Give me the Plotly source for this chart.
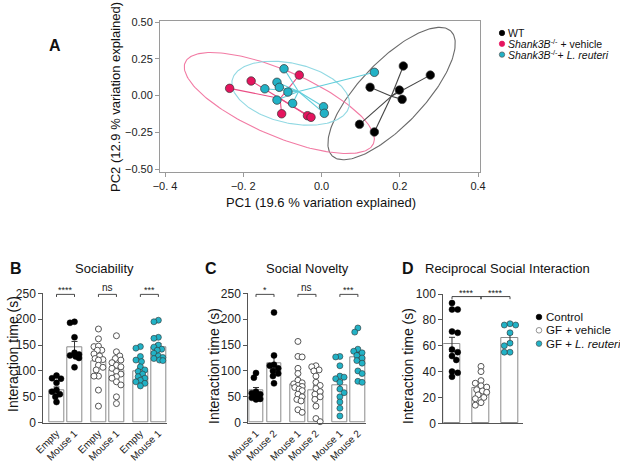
import numpy as np
import plotly.graph_objects as go

W, H = 620, 465
FONT = "Liberation Sans, Arial, sans-serif"

# ---------------- Panel A: PCA ----------------
wt_pc1 = [0.209, 0.124, 0.199, 0.206, 0.097, 0.135, 0.278]
wt_pc2 = [0.201, 0.056, 0.037, -0.026, -0.196, -0.248, 0.139]
veh_pc1 = [-0.235, -0.180, -0.057, -0.102, -0.036, -0.027]
veh_pc2 = [0.049, 0.099, 0.139, -0.124, -0.137, -0.148]
lr_pc1 = [-0.096, -0.145, -0.114, -0.108, -0.086, -0.114, -0.074, 0.005, 0.007, 0.135]
lr_pc2 = [0.182, 0.046, 0.090, 0.056, 0.024, -0.031, -0.053, -0.076, -0.121, 0.158]

# ellipse: centre and two conjugate semi-axis vectors (data units)
wt_ell_center = [0.179, 0.0136]
wt_ell_u = [0.1515, 0.4246]
wt_ell_v = [0.0595, -0.1502]
veh_ell_center = [-0.108, -0.051]
veh_ell_u = [0.2407, -0.2761]
veh_ell_v = [-0.0332, -0.2048]
lr_ell_center = [-0.079, 0.016]
lr_ell_u = [0.1494, -0.0903]
lr_ell_v = [-0.01694, -0.1983]

pca_xticks = [-0.4, -0.2, 0.0, 0.2, 0.4]
pca_xticktext = ["\u22120. 4", "\u22120. 2", "0.0", "0.2", "0.4"]
pca_yticks = [-0.5, -0.25, 0.0, 0.25, 0.5]
pca_yticktext = ["\u22120.50", "\u22120.25", "0.00", "0.25", "0.50"]

# ---------------- Panel B: Sociability ----------------
b_ticklabels = ["Empty", "Mouse 1", "Empty", "Mouse 1", "Empty", "Mouse 1"]
b_means = [63, 145, 119, 101, 100, 146]
b_sem = [6, 12, 8, 8, 6, 7]
b_points = [
    [91, 86, 85, 77, 63, 60, 55, 50, 40],
    [195, 193, 165, 135, 132, 130, 128, 125, 107],
    [181, 162, 147, 148, 140, 140, 133, 129, 124, 122, 121, 111, 107, 102, 90, 90, 63, 32],
    [168, 137, 129, 124, 121, 116, 111, 108, 105, 99, 94, 89, 86, 79, 73, 50, 37],
    [147, 144, 128, 121, 118, 108, 102, 99, 94, 89, 86, 82, 79, 76, 71],
    [198, 195, 165, 163, 150, 146, 142, 140, 134, 129, 126, 124, 121, 120],
]
b_sig = [["****", 0, 1], ["ns", 2, 3], ["***", 4, 5]]

# ---------------- Panel C: Social novelty ----------------
c_ticklabels = ["Mouse 1", "Mouse 2", "Mouse 1", "Mouse 2", "Mouse 1", "Mouse 2"]
c_means = [62, 115, 75, 63, 72, 127]
c_sem = [6, 13, 8, 8, 9, 9]
c_points = [
    [96, 87, 60, 57, 55, 52, 48, 46, 45],
    [213, 130, 112, 110, 105, 100, 95, 90, 76],
    [157, 128, 127, 105, 95, 82, 77, 75, 72, 70, 68, 65, 62, 55, 50, 45, 42, 25, 20],
    [110, 108, 102, 100, 90, 78, 72, 66, 60, 55, 50, 45, 32, 8, 2],
    [128, 127, 110, 90, 88, 85, 78, 65, 58, 50, 40, 28, 13],
    [183, 175, 142, 138, 135, 130, 125, 120, 115, 100, 95, 80, 78],
]
c_sig = [["*", 0, 1], ["ns", 2, 3], ["***", 4, 5]]

# ---------------- Panel D: Reciprocal social interaction ----------------
d_groups = ["Control", "GF + vehicle", "GF + L. reuteri"]
d_means = [61, 27, 66]
d_sem = [5.5, 2.5, 3]
d_points = [
    [93, 88, 88, 71, 70, 57, 55, 52, 49, 40, 39, 36],
    [44, 40, 33, 31, 29, 28, 26, 25, 24, 22, 20, 19, 16, 14],
    [77, 76, 76, 70, 62, 60, 55, 55],
]
d_sig = [["****", 0, 1], ["****", 1, 2]]

# ---------------- styles ----------------
BLACK = "#000000"
PINK = "#e5145e"
TEAL = "#22b2c6"
OUT = "#333333"


def pxx(x):
    return x / W


def pyy(y):
    return 1 - y / H


def swarm(values, ypx_per_unit, half_px, d=6.0):
    """deterministic beeswarm offsets (pixels) kept inside +-half_px"""
    order = sorted(range(len(values)), key=lambda i: -values[i])
    placed = []
    offs = [0.0] * len(values)
    n = 4
    base = [0.0]
    for m in range(1, n + 1):
        base += [half_px * m / n, -half_px * m / n]
    for k, i in enumerate(order):
        y = values[i] * ypx_per_unit
        cc = base if k % 2 == 0 else [-c for c in base]
        best, bestd = cc[0], -1
        chosen = None
        for c in cc:
            md = min([((c - ox) ** 2 + (y - oy) ** 2) ** 0.5 for ox, oy in placed] + [1e9])
            if md >= d * 0.85:
                chosen = c
                break
            if md > bestd:
                best, bestd = c, md
        if chosen is None:
            chosen = best
        placed.append((chosen, y))
        offs[i] = chosen
    return offs


fig = go.Figure()
shapes = []
annotations = []

# ---- Panel A traces ----
groupsA = [
    (wt_pc1, wt_pc2, wt_ell_center, wt_ell_u, wt_ell_v, BLACK, "#444444", "#6a6a6a"),
    (veh_pc1, veh_pc2, veh_ell_center, veh_ell_u, veh_ell_v, PINK, "#ea4d84", "#f27ba4"),
    (lr_pc1, lr_pc2, lr_ell_center, lr_ell_u, lr_ell_v, TEAL, "#63cedb", "#92d9e3"),
]
t = np.linspace(0, 2 * np.pi, 200)
for xs, ys, c, u, v, col, spcol, elcol in groupsA:
    ex = c[0] + u[0] * np.cos(t) + v[0] * np.sin(t)
    ey = c[1] + u[1] * np.cos(t) + v[1] * np.sin(t)
    fig.add_trace(go.Scatter(x=ex, y=ey, mode="lines", line=dict(color=elcol, width=1.1),
                             hoverinfo="skip", xaxis="x", yaxis="y"))
for xs, ys, c, u, v, col, spcol, elcol in groupsA:
    mx, my = float(np.mean(xs)), float(np.mean(ys))
    lx, ly = [], []
    for x, y in zip(xs, ys):
        lx += [x, mx, None]
        ly += [y, my, None]
    fig.add_trace(go.Scatter(x=lx, y=ly, mode="lines", line=dict(color=spcol, width=1.1),
                             hoverinfo="skip", xaxis="x", yaxis="y"))
for xs, ys, c, u, v, col, spcol, elcol in groupsA:
    fig.add_trace(go.Scatter(x=xs, y=ys, mode="markers",
                             marker=dict(size=8.5, color=col, line=dict(color=OUT, width=0.7)),
                             xaxis="x", yaxis="y", cliponaxis=False))

# ---- bar panels ----
dot_styles = [
    dict(color=BLACK, line=dict(color=BLACK, width=0.5)),
    dict(color="white", line=dict(color="#555555", width=1)),
    dict(color=TEAL, line=dict(color=OUT, width=0.6)),
]


def bar_panel(ax, positions, means, sem, points, groups_of_bars, width, ypx, xpx, sig, sig_y, leg):
    xa = "x" + ax
    ya = "y" + ax
    fig.add_trace(go.Bar(x=positions, y=means, width=width,
                         marker=dict(color="white", line=dict(color="#8a8a8a", width=1)),
                         error_y=dict(type="data", array=sem, color="#333333", thickness=1, width=3),
                         xaxis=xa, yaxis=ya))
    half = width * xpx / 2 - 3
    for i, vals in enumerate(points):
        offs = swarm(vals, ypx, half)
        xs = [positions[i] + o / xpx for o in offs]
        st = dot_styles[groups_of_bars[i]]
        fig.add_trace(go.Scatter(x=xs, y=vals, mode="markers",
                                 marker=dict(size=6, color=st["color"], line=st["line"]),
                                 xaxis=xa, yaxis=ya, cliponaxis=False))
    for txt_, a, b in sig:
        x0, x1 = positions[a], positions[b]
        shapes.append(dict(type="path", xref=xa, yref=ya,
                           path=f"M {x0},{sig_y - leg} L {x0},{sig_y} L {x1},{sig_y} L {x1},{sig_y - leg}",
                           line=dict(color="#444444", width=1)))
        is_star = "*" in txt_
        annotations.append(dict(xref=xa, yref=ya, x=(x0 + x1) / 2, y=sig_y, text=txt_,
                                showarrow=False, yanchor="bottom", yshift=-3 if is_star else -1,
                                font=dict(size=9 if is_star else 10, color="#222222", family=FONT)))


# positions: pairs of bars per group
pair_gap = 2.33
bc_pos = [g * pair_gap + j for g in range(3) for j in range(2)]
bar_groups6 = [0, 0, 1, 1, 2, 2]
bar_panel("2", bc_pos, b_means, b_sem, b_points, bar_groups6, 0.83, 129.4 / 250, 18.0, b_sig, 248, 5)
bar_panel("3", bc_pos, c_means, c_sem, c_points, bar_groups6, 0.8, 129.4 / 250, 18.0, c_sig, 248, 5)
d_pos = [0, 1, 2]
bar_panel("4", d_pos, d_means, d_sem, d_points, [0, 1, 2], 0.6, 129.3 / 100, 29.0, d_sig, 98, 2)

# ---- axes ----
tickfont = dict(family=FONT, size=11, color="#222222")
xlabfont = dict(family=FONT, size=10, color="#222222")
axA = dict(showline=True, mirror=True, linecolor="#9a9a9a", linewidth=1, ticks="outside",
           ticklen=4, tickcolor="#9a9a9a", showgrid=False, zeroline=False, tickfont=tickfont,
           automargin=False)
axBar = dict(showline=True, linecolor="#555555", linewidth=1, showgrid=False, zeroline=False,
             tickfont=dict(family=FONT, size=12, color="#222222"), automargin=False)

layout = dict(
    template=go.layout.Template(),
    width=W, height=H, margin=dict(l=0, r=0, t=0, b=0, pad=0), paper_bgcolor="white",
    plot_bgcolor="white", showlegend=False, bargap=0, autosize=False,
    font=dict(family=FONT, color="#222222"),
    xaxis=dict(axA, domain=[pxx(160), pxx(480)], range=[-0.413, 0.405],
               tickvals=pca_xticks, ticktext=pca_xticktext, anchor="y"),
    yaxis=dict(axA, domain=[pyy(172), pyy(21)], range=[-0.52, 0.507],
               tickvals=pca_yticks, ticktext=pca_yticktext, anchor="x"),
    xaxis2=dict(axBar, domain=[pxx(43.3), pxx(167)], range=[(43.3 - 56.5) / 18, (167 - 56.5) / 18],
                tickvals=bc_pos, ticktext=b_ticklabels, tickangle=-45, ticks="",
                tickfont=xlabfont, anchor="y2"),
    yaxis2=dict(axBar, domain=[pyy(422.7), pyy(293.3)], range=[0, 250], tickvals=[0, 50, 100, 150, 200, 250],
                ticks="outside", ticklen=4, tickcolor="#555555", anchor="x2"),
    xaxis3=dict(axBar, domain=[pxx(248.3), pxx(366)], range=[(248.3 - 256) / 18, (366 - 256) / 18],
                tickvals=bc_pos, ticktext=c_ticklabels, tickangle=-45, ticks="",
                tickfont=xlabfont, anchor="y3"),
    yaxis3=dict(axBar, domain=[pyy(422.7), pyy(293.3)], range=[0, 250], tickvals=[0, 50, 100, 150, 200, 250],
                ticks="outside", ticklen=4, tickcolor="#555555", anchor="x3"),
    xaxis4=dict(axBar, domain=[pxx(443.3), pxx(523)], range=[(443.3 - 452) / 29, (523 - 452) / 29],
                showticklabels=False, ticks="", anchor="y4"),
    yaxis4=dict(axBar, domain=[pyy(423.3), pyy(294)], range=[0, 100], tickvals=[0, 20, 40, 60, 80, 100],
                ticks="outside", ticklen=4, tickcolor="#555555", anchor="x4"),
)


def txt(x, y, s, size, bold=False, angle=0, xanchor="center", yanchor="middle"):
    if bold:
        s = "<b>" + s + "</b>"
    annotations.append(dict(xref="paper", yref="paper", x=pxx(x), y=pyy(y), text=s, showarrow=False,
                            xanchor=xanchor, yanchor=yanchor, textangle=angle,
                            font=dict(family=FONT, size=size, color="#111111")))


# panel letters and titles
txt(55, 46, "A", 16, bold=True)
txt(16, 268, "B", 16, bold=True)
txt(211, 268, "C", 16, bold=True)
txt(408, 268, "D", 16, bold=True)
txt(105, 268, "Sociability", 13)
txt(307, 268, "Social Novelty", 13)
txt(507, 268, "Reciprocal Social Interaction", 13)
txt(321, 203, "PC1 (19.6 % variation explained)", 13)
txt(115, 97, "PC2 (12.9 % variation explained)", 13, angle=-90)
txt(13, 354, "Interaction time (s)", 14, angle=-90)
txt(214, 366, "Interaction time (s)", 14, angle=-90)
txt(408, 366, "Interaction time (s)", 14, angle=-90)


# legends (layout markers + text)
def legdot(x, y, r, fill, line):
    shapes.append(dict(type="circle", xref="paper", yref="paper", x0=pxx(x - r), x1=pxx(x + r),
                       y0=pyy(y + r), y1=pyy(y - r), fillcolor=fill, line=dict(color=line, width=0.7)))


legA = [("WT", BLACK, BLACK),
        ("<i>Shank3B</i><sup>-/-</sup> + vehicle", PINK, PINK),
        ("<i>Shank3B</i><sup>-/-</sup>+ <i>L. reuteri</i>", TEAL, "#555555")]
for k, (s, f, l) in enumerate(legA):
    y = 33 + k * 10.8
    legdot(502, y, 2.7, f, l)
    txt(506, y, s, 10.5, xanchor="left")

legD = [("Control", BLACK, BLACK), ("GF + vehicle", "white", "#666666"),
        ("GF + <i>L. reuteri</i>", TEAL, "#555555")]
for k, (s, f, l) in enumerate(legD):
    y = 317 + k * 13.3
    legdot(539, y, 2.8, f, l)
    txt(544, y, s, 11.5, xanchor="left")

layout["shapes"] = shapes
layout["annotations"] = annotations
fig.update_layout(**layout)
fig.write_html("out.html", config={"displayModeBar": False},
               post_script="document.body.style.margin='0';")
